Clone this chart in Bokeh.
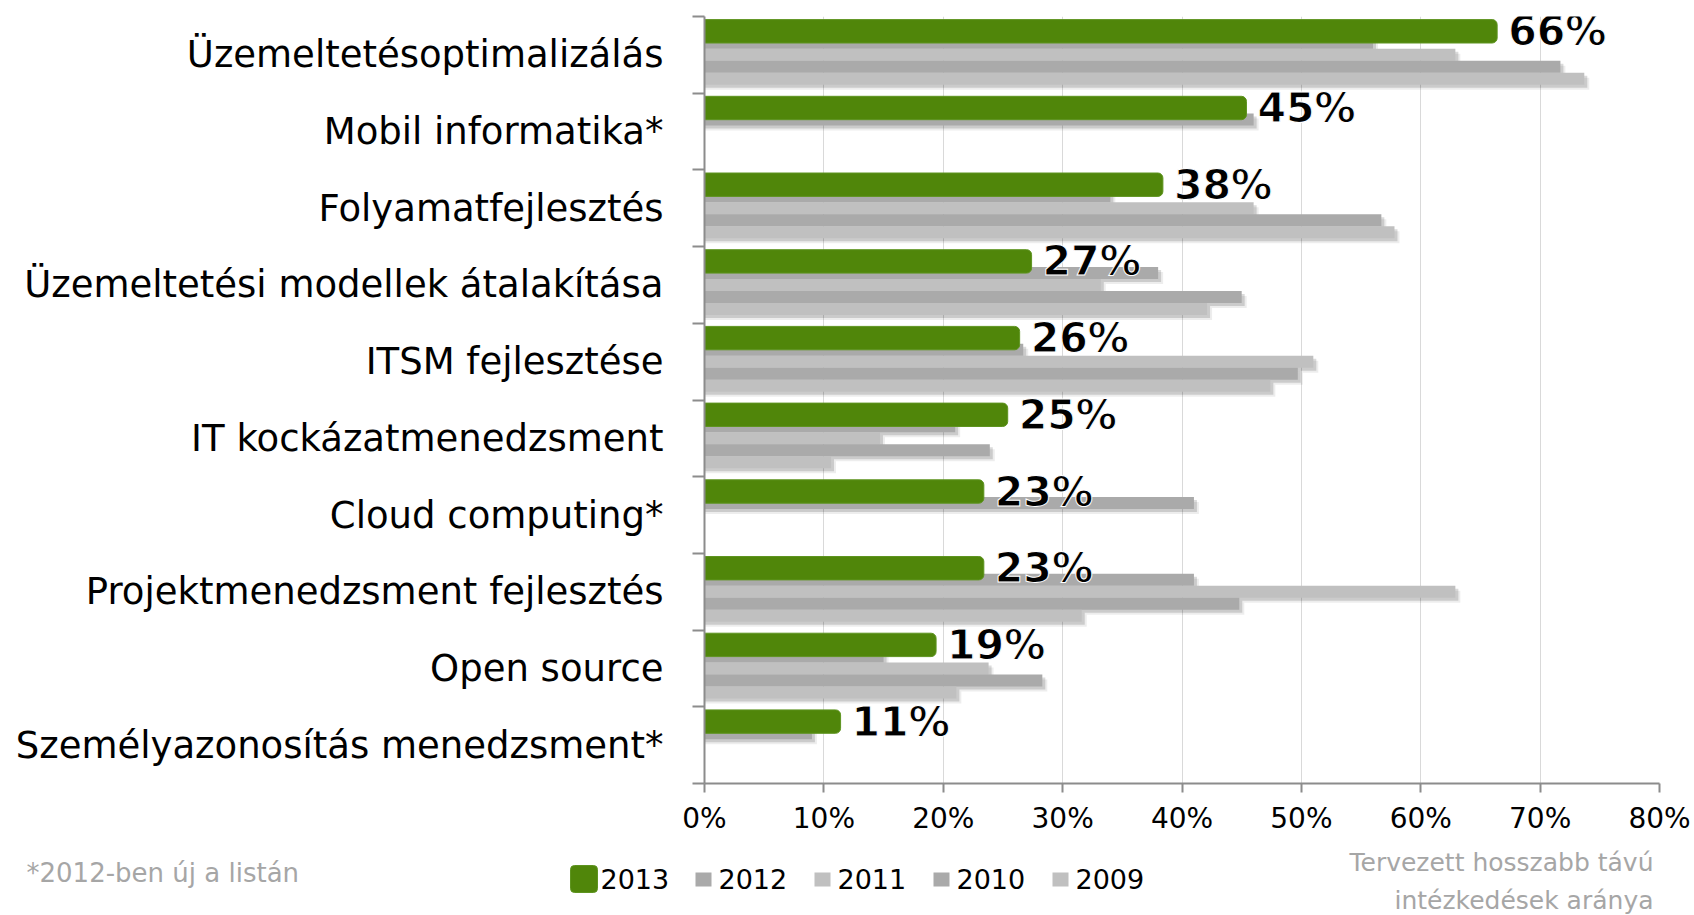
from bokeh.plotting import figure
from bokeh.layouts import column
from bokeh.models import (Range1d, FixedTicker, PrintfTickFormatter, Label,
                          ColumnDataSource, CustomJSTickFormatter, HBar, Quad, Text)
from bokeh.core.properties import value
from bokeh.embed import file_html
from bokeh.resources import INLINE

# ---------------- data ----------------
categories = [
    "Üzemeltetésoptimalizálás",
    "Mobil informatika*",
    "Folyamatfejlesztés",
    "Üzemeltetési modellek átalakítása",
    "ITSM fejlesztése",
    "IT kockázatmenedzsment",
    "Cloud computing*",
    "Projektmenedzsment fejlesztés",
    "Open source",
    "Személyazonosítás menedzsment*",
]
years = ["2013", "2012", "2011", "2010", "2009"]
v2013 = [66.4, 45.4, 38.4, 27.4, 26.4, 25.4, 23.4, 23.4, 19.4, 11.4]
v2012 = [56.0, 46.0, 34.0, 38.0, 26.7, 21.0, 41.0, 41.0, 15.0, 9.0]
v2011 = [62.9, None, 46.0, 33.2, 51.0, 14.7, None, 62.9, 23.8, None]
v2010 = [71.7, None, 56.7, 45.0, 49.7, 23.9, None, 44.8, 28.3, None]
v2009 = [73.7, None, 57.8, 42.1, 47.4, 10.6, None, 31.6, 21.1, None]
x_ticks = [0, 10, 20, 30, 40, 50, 60, 70, 80]
footnote = "*2012-ben új a listán"
axis_title = ["Tervezett hosszabb távú", "intézkedések aránya"]

# ---------------- style / layout ----------------
GREEN = "#50860A"
DARK = "#AAAAAA"
LIGHT = "#C0C0C0"
NOTE = "#A6A6A6"
FONT = "DejaVu Sans"
W = 1694
H1, H2 = 840, 74
FL, FT = 704, 16
BORDER_R = 35
FW = W - FL - BORDER_R
FH = 767
BORDER_B = H1 - FT - FH
n = len(categories)
band_px = FH / n
px_x = 80.0 / FW
px_y = 1.0 / band_px
GAP = 8.35 * px_y
SLOT = 12.0 * px_y
G_TOP, G_BOT = 3.1 * px_y, 26.5 * px_y

p = figure(width=W, height=H1, output_backend="svg", toolbar_location=None,
           x_range=Range1d(0, 80), y_range=Range1d(n, 0),
           min_border_left=FL, min_border_top=FT, min_border_right=BORDER_R,
           min_border_bottom=BORDER_B)
p.outline_line_color = None
p.background_fill_color = "white"
p.border_fill_color = "white"

# grid
p.ygrid.visible = False
p.xgrid.ticker = FixedTicker(ticks=x_ticks)
p.xgrid.grid_line_color = "#D9D9D9"
p.xgrid.grid_line_width = 1

# axes
xa = p.xaxis[0]
xa.ticker = FixedTicker(ticks=x_ticks, minor_ticks=[])
xa.formatter = PrintfTickFormatter(format="%d%%")
xa.axis_line_color = "#8C8C8C"
xa.axis_line_width = 2
xa.major_tick_line_color = "#8C8C8C"
xa.major_tick_line_width = 2
xa.major_tick_out = 9
xa.major_tick_in = 0
xa.minor_tick_out = 0
xa.major_label_text_font = FONT
xa.major_label_text_font_size = "28px"
xa.major_label_text_color = "black"
xa.major_label_standoff = 9

ya = p.yaxis[0]
ya.ticker = FixedTicker(ticks=[i + 0.5 for i in range(n)], minor_ticks=list(range(n + 1)))
ya.formatter = CustomJSTickFormatter(args=dict(cats=categories),
                                     code="const k = Math.floor(tick); return (k >= 0 && k < cats.length) ? cats[k] : '';")
ya.axis_line_color = "#8C8C8C"
ya.axis_line_width = 2
ya.major_tick_out = 0
ya.major_tick_in = 0
ya.minor_tick_out = 12
ya.minor_tick_in = 0
ya.minor_tick_line_color = "#8C8C8C"
ya.minor_tick_line_width = 2
ya.major_label_text_font = FONT
ya.major_label_text_font_size = "37px"
ya.major_label_text_color = "black"
ya.major_label_standoff = 29

# ---------------- bars ----------------
grey_series = [v2012, v2011, v2010, v2009]
grey_colors = [DARK, LIGHT, DARK, LIGHT]

# soft drop shadows first
for j, vals in enumerate(grey_series):
    slot = j + 1
    idx = [i for i, v in enumerate(vals) if v is not None]
    for (dx, dy, a) in [(5, 5, 0.07), (3, 3, 0.14)]:
        src = ColumnDataSource(dict(
            y=[i + GAP + (slot + 0.5) * SLOT + dy * px_y for i in idx],
            right=[vals[i] + dx * px_x for i in idx]))
        p.hbar(y="y", left=0, right="right", height=SLOT, source=src,
               fill_color="black", fill_alpha=a, line_color=None)

for j, (vals, col) in enumerate(zip(grey_series, grey_colors)):
    slot = j + 1
    idx = [i for i, v in enumerate(vals) if v is not None]
    src = ColumnDataSource(dict(
        y=[i + GAP + (slot + 0.5) * SLOT for i in idx],
        right=[vals[i] for i in idx]))
    p.hbar(y="y", left=0, right="right", height=SLOT, source=src,
           fill_color=col, line_color=None)

gkw = {}
if "border_radius" in HBar.properties():
    gkw["border_radius"] = (0, 5, 5, 0)
gsrc = ColumnDataSource(dict(
    y=[i + (G_TOP + G_BOT) / 2 for i in range(n)],
    right=v2013,
    lx=[v + 11 * px_x for v in v2013],
    lbl=[f"{round(v)}%" for v in v2013]))
p.hbar(y="y", left=0, right="right", height=G_BOT - G_TOP, source=gsrc,
       fill_color=GREEN, line_color="#5E9420", line_width=1, **gkw)

tkw = {}
if "text_outline_color" in Text.properties():
    tkw["text_outline_color"] = "white"
p.text(x="lx", y="y", text="lbl", source=gsrc, text_font=value(FONT),
       text_font_style="bold", text_font_size="41px", text_color="black",
       text_baseline="middle", text_align="left", **tkw)

# ---------------- bottom strip: legend + notes ----------------
p2 = figure(frame_width=W, frame_height=H2, output_backend="svg", toolbar_location=None,
            x_range=Range1d(0, W), y_range=Range1d(H2, 0),
            x_axis_type=None, y_axis_type=None, min_border=0)
p2.outline_line_color = None
p2.grid.visible = False
p2.background_fill_color = "white"
p2.border_fill_color = "white"
if "frame_align" in p2.properties():
    p2.frame_align = False
    p.frame_align = False

# legend (pixel layout of the strip)
LEG_X0, LEG_Y = 570, 38.5
qkw = {}
if "border_radius" in Quad.properties():
    qkw["border_radius"] = 4
p2.quad(left=[LEG_X0], right=[LEG_X0 + 27], top=[LEG_Y - 13.5], bottom=[LEG_Y + 13.5],
        fill_color=GREEN, line_color="#5E9420", **qkw)
p2.text(x=[LEG_X0 + 30], y=[LEG_Y], text=[years[0]], text_font=value(FONT),
        text_font_size="27px", text_color="black", text_baseline="middle", text_align="left")
G_X0, PITCH = 695, 119
gx = [G_X0 + PITCH * k for k in range(4)]
p2.quad(left=gx, right=[x + 16 for x in gx], top=[LEG_Y - 6.5] * 4, bottom=[LEG_Y + 7.5] * 4,
        fill_color=grey_colors, line_color=None)
p2.text(x=[x + 23 for x in gx], y=[LEG_Y] * 4, text=years[1:], text_font=value(FONT),
        text_font_size="27px", text_color="black", text_baseline="middle", text_align="left")

p2.add_layout(Label(x=26, y=32, text=footnote, text_font=FONT, text_font_size="26px",
                    text_color=NOTE, text_baseline="middle", text_align="left"))
for t, yy in zip(axis_title, [22, 60]):
    p2.add_layout(Label(x=1653, y=yy, text=t, text_font=FONT, text_font_size="25px",
                        text_color=NOTE, text_baseline="middle", text_align="right"))

layout = column(p, p2, spacing=0)
open("out.html", "w").write(file_html(layout, INLINE))
